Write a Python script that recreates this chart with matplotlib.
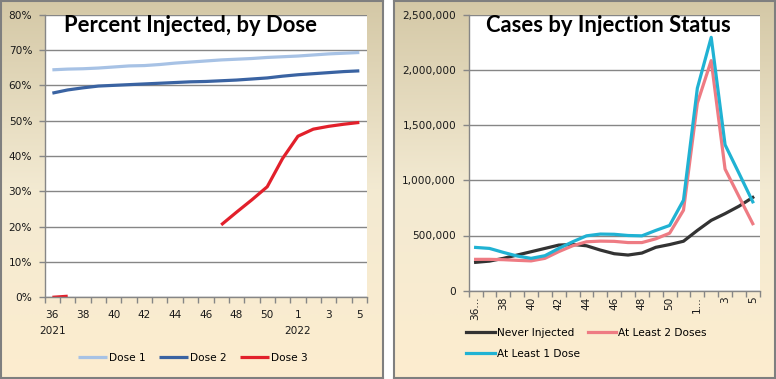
import numpy as np
import matplotlib
matplotlib.use("Agg")
import matplotlib.pyplot as plt
from matplotlib.ticker import FuncFormatter, FixedLocator
from matplotlib.transforms import blended_transform_factory

# ---------------- data ----------------
weeks = ["36", "37", "38", "39", "40", "41", "42", "43", "44", "45", "46",
         "47", "48", "49", "50", "51", "1", "2", "3", "4", "5"]
left_tick_labels = ["36", "38", "40", "42", "44", "46", "48", "50", "1", "3", "5"]
right_tick_labels = ["36...", "38", "40", "42", "44", "46", "48", "50", "1...", "3", "5"]
year_labels = ["2021", "2022"]
year_positions = ["36", "1"]

dose1 = [64.4, 64.6, 64.7, 64.9, 65.2, 65.5, 65.6, 65.9, 66.3, 66.6, 66.9,
         67.2, 67.4, 67.6, 67.9, 68.1, 68.3, 68.6, 68.9, 69.1, 69.3]
dose2 = [57.8, 58.7, 59.3, 59.8, 60.0, 60.2, 60.4, 60.6, 60.8, 61.0, 61.1,
         61.3, 61.5, 61.8, 62.1, 62.6, 63.0, 63.3, 63.6, 63.9, 64.1]
nan = float("nan")
dose3 = [0.0, 0.3, nan, nan, nan, nan, nan, nan, nan, nan, nan,
         20.5, 24.1, 27.6, 31.3, 39.3, 45.6, 47.6, 48.4, 49.0, 49.5]

never_injected = [257e3, 268e3, 293e3, 323e3, 353e3, 383e3, 413e3, 419e3, 407e3, 368e3, 335e3,
                  323e3, 341e3, 393e3, 418e3, 448e3, 546e3, 637e3, 698e3, 765e3, 845e3]
at_least_2 = [284e3, 284e3, 281e3, 275e3, 270e3, 293e3, 354e3, 407e3, 443e3, 449e3, 447e3,
              436e3, 436e3, 470e3, 521e3, 729e3, 1699e3, 2084e3, 1102e3, 854e3, 607e3]
at_least_1 = [392e3, 383e3, 347e3, 314e3, 293e3, 317e3, 383e3, 443e3, 497e3, 513e3, 511e3,
              500e3, 497e3, 546e3, 591e3, 820e3, 1834e3, 2295e3, 1322e3, 1065e3, 805e3]

# ---------------- layout ----------------
W, H = 776, 379
fig = plt.figure(figsize=(W / 100, H / 100), dpi=100)
plt.rcParams['font.family'] = ['DejaVu Sans']


def fr(x0, y0, x1, y1):
    return [x0 / W, 1 - y1 / H, (x1 - x0) / W, (y1 - y0) / H]


# gradient background panels
def panel(rect):
    bg = fig.add_axes(rect, zorder=-5)
    n = 256
    t = np.linspace(0, 1, n)
    top = np.array([212, 200, 166]) / 255
    mid = np.array([243, 234, 210]) / 255
    bot = np.array([253, 237, 207]) / 255
    cols = np.zeros((n, 1, 3))
    for i, v in enumerate(t):
        if v < 0.5:
            c = top + (mid - top) * (v / 0.5)
        else:
            c = mid + (bot - mid) * ((v - 0.5) / 0.5)
        cols[i, 0] = c
    bg.imshow(cols, aspect='auto', extent=[0, 1, 0, 1], origin='upper')
    bg.set_xlim(0, 1)
    bg.set_ylim(0, 1)
    bg.set_xticks([])
    bg.set_yticks([])
    for s in bg.spines.values():
        s.set_color('#7f7f7f')
        s.set_linewidth(1.5)
    return bg


panel(fr(0.8, 0.8, 382.5, 378.2))
panel(fr(393.5, 0.8, 775.2, 378.2))

grid_c = '#868686'
tick_fs = 7.6
title_fs = 15.8

# ---------------- left chart ----------------
axL = fig.add_axes(fr(44.7, 14.7, 367, 297.3))
x = np.arange(len(weeks))
axL.plot(x, dose1, color='#A7C2E5', lw=2.3, solid_capstyle='butt', label='Dose 1')
axL.plot(x, dose2, color='#3A63A2', lw=2.3, solid_capstyle='butt', label='Dose 2')
axL.plot(x, dose3, color='#E2202B', lw=2.3, solid_capstyle='butt', label='Dose 3')
axL.set_xlim(-0.5, len(weeks) - 0.5)
axL.set_ylim(0, 80)
axL.set_yticks(np.arange(0, 81, 10))
axL.yaxis.set_major_formatter(FuncFormatter(lambda v, p: f"{int(round(v))}%"))
lpos = [weeks.index(l) for l in left_tick_labels]
axL.set_xticks(lpos)
axL.set_xticklabels(left_tick_labels)
axL.xaxis.set_minor_locator(FixedLocator(np.arange(-0.5, len(weeks), 1.0)))
axL.tick_params(axis='x', which='major', length=0, pad=9, labelsize=tick_fs, colors='#1a1a1a')
axL.tick_params(axis='x', which='minor', length=4, width=1, color=grid_c, direction='out')
axL.tick_params(axis='y', which='major', length=4, width=1, color=grid_c, pad=5,
                labelsize=tick_fs, labelcolor='#1a1a1a')
axL.grid(axis='y', color=grid_c, lw=1)
axL.set_axisbelow(True)
for s in ['top', 'right']:
    axL.spines[s].set_visible(False)
for s in ['left', 'bottom']:
    axL.spines[s].set_color(grid_c)
    axL.spines[s].set_linewidth(1)
trL = blended_transform_factory(axL.transData, fig.transFigure)
for lab, pos in zip(year_labels, year_positions):
    axL.text(weeks.index(pos), 1 - 331 / H, lab, transform=trL, ha='center', va='center',
             fontsize=tick_fs, color='#1a1a1a')
fig.text(190 / W, 1 - 26 / H, "Percent Injected, by Dose", ha='center', va='center',
         fontsize=title_fs, fontweight='bold', family='Lato')
fig.legend(handles=axL.get_lines(), loc='center', bbox_to_anchor=(193 / W, 1 - 358 / H),
           ncol=3, frameon=False, fontsize=tick_fs, handlelength=2.7, handletextpad=0.2,
           columnspacing=1.3, borderpad=0)

# ---------------- right chart ----------------
axR = fig.add_axes(fr(468.7, 14.7, 759.7, 290.7))
lN, = axR.plot(x, never_injected, color='#333333', lw=2.3, label='Never Injected')
l2, = axR.plot(x, at_least_2, color='#EE7B83', lw=2.3, label='At Least 2 Doses')
l1, = axR.plot(x, at_least_1, color='#20B2D3', lw=2.3, label='At Least 1 Dose')
axR.set_xlim(-0.5, len(weeks) - 0.5)
axR.set_ylim(0, 2.5e6)
axR.set_yticks(np.arange(0, 2.5e6 + 1, 5e5))
axR.yaxis.set_major_formatter(FuncFormatter(lambda v, p: f"{int(round(v)):,}"))
axR.set_xticks(lpos)
axR.set_xticklabels(right_tick_labels, rotation=90, va='top', ha='center')
axR.xaxis.set_minor_locator(FixedLocator(np.arange(-0.5, len(weeks), 1.0)))
axR.tick_params(axis='x', which='major', length=0, pad=4, labelsize=tick_fs, colors='#1a1a1a')
axR.tick_params(axis='x', which='minor', length=4, width=1, color=grid_c, direction='out')
axR.tick_params(axis='y', which='major', length=4, width=1, color=grid_c, pad=5,
                labelsize=tick_fs, labelcolor='#1a1a1a')
axR.grid(axis='y', color=grid_c, lw=1)
axR.set_axisbelow(True)
for s in ['top', 'right']:
    axR.spines[s].set_visible(False)
for s in ['left', 'bottom']:
    axR.spines[s].set_color(grid_c)
    axR.spines[s].set_linewidth(1)
fig.text(608 / W, 1 - 26 / H, "Cases by Injection Status", ha='center', va='center',
         fontsize=title_fs, fontweight='bold', family='Lato')
fig.legend(handles=[lN, l1, l2], loc='upper left', bbox_to_anchor=(466 / W, 1 - 328 / H),
           ncol=2, frameon=False, fontsize=tick_fs, handlelength=2.7, handletextpad=0.2,
           columnspacing=0.75, borderpad=0, borderaxespad=0, labelspacing=1.0)

fig.savefig("out.png", dpi=100)
